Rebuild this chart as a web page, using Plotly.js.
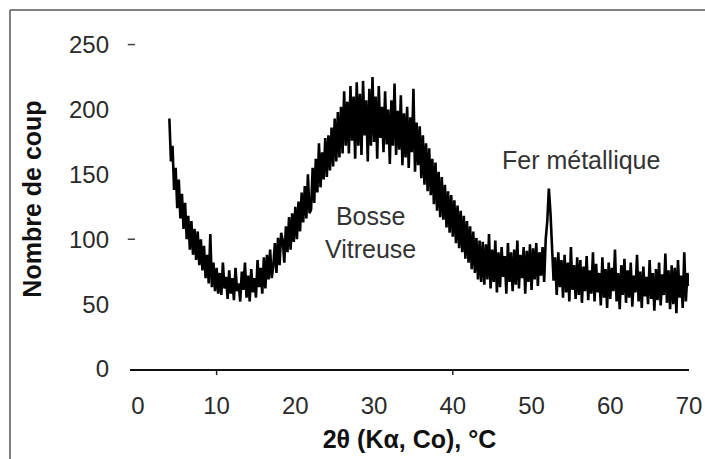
<!DOCTYPE html>
<html>
<head>
<meta charset="utf-8">
<script src="https://cdn.plot.ly/plotly-3.0.1.min.js"></script>
<style>
  html, body { margin: 0; padding: 0; background: #ffffff; }
  #chart { width: 705px; height: 459px; }
</style>
</head>
<body>
<div id="chart"></div>
<script>
// 2θ scan: first angle and step (degrees)
const thetaStart = 4.0;
const thetaStep = 0.2;

// Counts, one value every 0.2° from 4.0° to 70.0°
const counts = [
  193, 160, 172, 138, 155, 124, 146, 116, 135, 108,   // 4.0 - 5.8
  128, 100, 118, 92, 114, 88, 108, 84, 106, 80,       // 6.0 - 7.8
  100, 76, 95, 70, 88, 66, 104, 63, 82, 60,           // 8.0 - 9.8
  78, 58, 74, 57, 82, 62, 71, 54, 76, 58,             // 10.0 - 11.8
  70, 53, 78, 60, 66, 52, 75, 61, 82, 55,             // 12.0 - 13.8
  72, 52, 77, 59, 70, 55, 84, 63, 78, 58,             // 14.0 - 15.8
  86, 62, 88, 69, 92, 70, 79, 97, 74, 101,            // 16.0 - 17.8
  80, 105, 99, 82, 110, 90, 117, 92, 120, 98,         // 18.0 - 19.8
  125, 100, 129, 106, 136, 113, 141, 116, 150, 120,   // 20.0 - 21.8
  123, 155, 128, 162, 136, 174, 140, 167, 146, 178,   // 22.0 - 23.8
  148, 180, 153, 186, 156, 193, 160, 198, 163, 202,   // 24.0 - 25.8
  166, 214, 172, 206, 166, 218, 176, 210, 162, 221,   // 26.0 - 27.8
  172, 212, 165, 222, 180, 207, 160, 216, 172, 225,   // 28.0 - 29.8
  175, 210, 162, 218, 178, 202, 167, 214, 173, 200,   // 30.0 - 31.8
  158, 207, 172, 220, 165, 199, 169, 211, 157, 197,   // 32.0 - 33.8
  163, 202, 155, 194, 167, 216, 152, 190, 157, 187,   // 34.0 - 35.8
  147, 180, 142, 174, 137, 170, 134, 162, 127, 159,   // 36.0 - 37.8
  122, 152, 117, 148, 115, 142, 109, 137, 105, 134,   // 38.0 - 39.8
  102, 130, 97, 126, 93, 122, 90, 118, 85, 114,       // 40.0 - 41.8
  82, 110, 77, 106, 74, 101, 69, 99, 67, 98,          // 42.0 - 43.8
  65, 96, 69, 104, 62, 92, 67, 99, 59, 90,            // 44.0 - 45.8
  63, 94, 71, 87, 58, 97, 67, 90, 60, 92,             // 46.0 - 47.8
  65, 99, 62, 88, 70, 94, 58, 91, 67, 96,             // 48.0 - 49.8
  61, 93, 69, 97, 64, 90, 72, 94, 67, 100,            // 50.0 - 51.8
  114, 139, 121, 92, 68, 86, 57, 90, 63, 84,          // 52.0 - 53.8
  55, 88, 59, 82, 52, 94, 61, 80, 54, 86,             // 54.0 - 55.8
  57, 84, 51, 79, 60, 87, 53, 76, 58, 90,             // 56.0 - 57.8
  52, 81, 59, 74, 49, 86, 55, 77, 47, 82,             // 58.0 - 59.8
  54, 78, 60, 92, 52, 74, 46, 80, 57, 85,             // 60.0 - 61.8
  51, 76, 55, 82, 48, 72, 59, 88, 52, 75,             // 62.0 - 63.8
  47, 79, 56, 71, 50, 84, 54, 74, 45, 77,             // 64.0 - 65.8
  53, 82, 49, 73, 57, 89, 51, 76, 46, 80,             // 66.0 - 67.8
  50, 78, 43, 84, 55, 72, 47, 90, 52, 74,             // 68.0 - 69.8
  64                                                  // 70.0
];

// Axis ticks and labels
const xTickVals = [0, 10, 20, 30, 40, 50, 60, 70];
const yTickVals = [0, 50, 100, 150, 200, 250];
const xMarkedTicks = [10, 40];
const yDashTicks = [100, 250];

// Text labels
const xTitle = "2θ (Kα, Co), °C";
const yTitle = "Nombre de coup";
const labelGlass = "Bosse<br>Vitreuse";
const labelIron = "Fer métallique";

const FONT = "Liberation Sans, Arial, Helvetica, sans-serif";
const TEXT = "#2a2a2a";

const trace = {
  type: "scatter",
  mode: "lines",
  x0: thetaStart,
  dx: thetaStep,
  y: counts,
  line: { color: "#000000", width: 2.6 },
  hoverinfo: "skip",
  showlegend: false
};

const shapes = [];
// outer frame (left and top edges of the original picture)
shapes.push({ type: "line", xref: "paper", yref: "paper", x0: -0.2147, x1: -0.2147, y0: 1.0559, y1: -0.3,
  line: { color: "#555555", width: 1.5 } });
shapes.push({ type: "line", xref: "paper", yref: "paper", x0: -0.2147, x1: 1.05, y0: 1.0559, y1: 1.0559,
  line: { color: "#555555", width: 1.5 } });
// marked x ticks
xMarkedTicks.forEach(v => shapes.push({ type: "line", xref: "x", yref: "paper", x0: v, x1: v, y0: 0, y1: -0.018,
  line: { color: "#222222", width: 1.5 } }));
// small dashes next to some y labels
yDashTicks.forEach(v => shapes.push({ type: "line", xref: "paper", yref: "y", x0: -0.004, x1: 0.009, y0: v, y1: v,
  line: { color: "#444444", width: 1.5 } }));

const layout = {
  width: 705,
  height: 459,
  margin: { l: 130, r: 16, t: 29, b: 90 },
  paper_bgcolor: "#ffffff",
  plot_bgcolor: "#ffffff",
  font: { family: FONT, color: TEXT, size: 24 },
  xaxis: {
    range: [-1, 70],
    tickmode: "array",
    tickvals: xTickVals,
    ticks: "",
    showgrid: false,
    zeroline: false,
    showline: true,
    linecolor: "#111111",
    linewidth: 1.5,
    ticklabelstandoff: 15,
    tickfont: { family: FONT, size: 24, color: TEXT },
    title: { text: xTitle, standoff: 12, font: { family: FONT, size: 25, color: "#111111", weight: "bold" } }
  },
  yaxis: {
    range: [0, 262],
    tickmode: "array",
    tickvals: yTickVals,
    ticks: "",
    showgrid: false,
    zeroline: false,
    showline: false,
    ticklabelstandoff: 20,
    tickfont: { family: FONT, size: 24, color: TEXT },
    title: { text: yTitle, standoff: 20, font: { family: FONT, size: 25, color: "#111111", weight: "bold" } }
  },
  shapes: shapes,
  annotations: [
    { xref: "x", yref: "y", x: 29.5, y: 105, text: labelGlass, showarrow: false,
      font: { family: FONT, size: 25, color: "#333333" }, align: "center" },
    { xref: "x", yref: "y", x: 56.3, y: 161, text: labelIron, showarrow: false,
      font: { family: FONT, size: 25, color: "#333333" } }
  ]
};

Plotly.newPlot("chart", [trace], layout, { displayModeBar: false, staticPlot: true });
</script>
</body>
</html>
